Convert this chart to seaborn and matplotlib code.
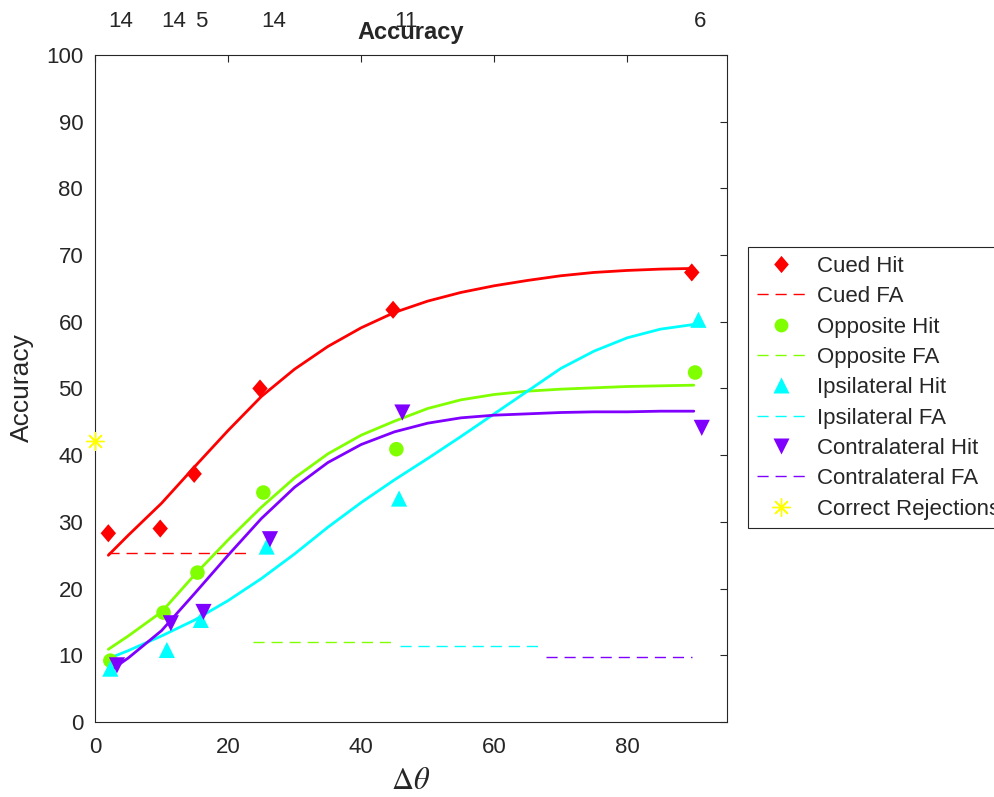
import numpy as np
import pandas as pd
import seaborn as sns
import matplotlib.pyplot as plt
from matplotlib.lines import Line2D
from matplotlib.path import Path
from matplotlib.markers import MarkerStyle

sns.set_style("white")
plt.rcParams['font.family'] = ['Liberation Sans', 'DejaVu Sans']
plt.rcParams['mathtext.fontset'] = 'stix'

# ---- data ----
cued_x = [2, 9.8, 14.9, 24.8, 44.8, 89.7]
cued_y = [28.3, 29.0, 37.2, 50.0, 61.8, 67.4]
opp_x = [2.3, 10.3, 15.4, 25.3, 45.3, 90.2]
opp_y = [9.2, 16.4, 22.4, 34.4, 40.9, 52.4]
ipsi_x = [2.3, 10.8, 15.9, 25.8, 45.7, 90.7]
ipsi_y = [8.0, 10.8, 15.3, 26.3, 33.5, 60.3]
contra_x = [3.3, 11.4, 16.3, 26.3, 46.2, 91.2]
contra_y = [8.5, 14.8, 16.5, 27.4, 46.4, 44.1]

# fitted curves
fit_x = [2, 5, 10, 15, 20, 25, 30, 35, 40, 45, 50, 55, 60, 65, 70, 75, 80, 85, 90]
cued_fit = [25.0, 28.0, 32.8, 38.3, 43.7, 48.8, 52.9, 56.3, 59.1, 61.4, 63.1, 64.4, 65.4,
            66.2, 66.9, 67.4, 67.7, 67.9, 68.0]
opp_fit = [10.9, 12.9, 16.5, 22.1, 27.3, 32.2, 36.6, 40.2, 43.0, 45.1, 47.0, 48.3, 49.1,
           49.6, 49.9, 50.1, 50.3, 50.4, 50.5]
ipsi_fit = [9.5, 10.7, 12.9, 15.3, 18.2, 21.5, 25.2, 29.2, 32.9, 36.3, 39.5, 42.8, 46.2,
            49.6, 53.0, 55.6, 57.6, 58.9, 59.6]
contra_fit = [7.5, 9.6, 13.7, 19.3, 25.0, 30.5, 35.2, 38.9, 41.6, 43.5, 44.8, 45.6, 46.0,
              46.2, 46.4, 46.5, 46.5, 46.6, 46.6]

# false alarm levels and their x spans
fa_y = [25.4, 11.95, 11.4, 9.8]
fa_x0 = [1.9, 23.8, 45.9, 67.8]
fa_x1 = [23.1, 45.2, 67.1, 89.8]

cr_x, cr_y = 0, 42.1

count_x = [2, 10, 15, 25, 45, 90]
count_lab = ['14', '14', '5', '14', '11', '6']

names = ['Cued', 'Opposite', 'Ipsilateral', 'Contralateral']
colors = ['#ff0000', '#80ff00', '#00ffff', '#8000ff']

diamond = MarkerStyle(Path([(0, 1), (0.85, 0), (0, -1), (-0.85, 0), (0, 1)],
                           [1, 2, 2, 2, 79]))
markers = [diamond, 'o', '^', 'v']
msize = [170, 110, 135, 135]

pts = [(cued_x, cued_y), (opp_x, opp_y), (ipsi_x, ipsi_y), (contra_x, contra_y)]
fits = [cued_fit, opp_fit, ipsi_fit, contra_fit]

fig = plt.figure(figsize=(9.95, 7.97), dpi=100)
ax = fig.add_axes([0.0955, 0.0941, 0.6352, 0.8369])

for i in range(4):
    d = pd.DataFrame({'x': pts[i][0], 'y': pts[i][1]})
    sns.scatterplot(data=d, x='x', y='y', marker=markers[i], s=msize[i],
                    color=colors[i], edgecolor='none', ax=ax, zorder=3, clip_on=False)
    ax.plot([fa_x0[i], fa_x1[i]], [fa_y[i], fa_y[i]], color=colors[i], lw=1,
            dashes=(8, 5), zorder=2)

for i in range(4):
    f = pd.DataFrame({'x': fit_x, 'y': fits[i]})
    sns.lineplot(data=f, x='x', y='y', color=colors[i], lw=2, ax=ax,
                 sort=False, estimator=None, zorder=2.5)

ax.plot([cr_x], [cr_y], marker=(8, 2, 0), ms=13, mew=1, color='#ffff00',
        ls='none', clip_on=False, zorder=4)

ax.set_xlim(0, 95)
ax.set_ylim(0, 100)
ax.set_xticks([0, 20, 40, 60, 80])
ax.set_yticks(range(0, 101, 10))
ax.set_xlabel('')
ax.set_ylabel('')
ax.tick_params(direction='in', length=5, width=0.8, colors='#262626',
               labelsize=16, top=True, right=True)
ax.tick_params(axis='x', pad=11)
ax.tick_params(axis='y', pad=8.5)
for sp in ax.spines.values():
    sp.set_color('#262626')
    sp.set_linewidth(0.8)

for xx, lab in zip(count_x, count_lab):
    ax.text(xx, 105.0, lab, ha='left', va='center', fontsize=16, color='#262626',
            clip_on=False)

fig.text(411 / 995, 1 - 33 / 797, 'Accuracy', ha='center', va='center',
         fontsize=17, weight='bold')
fig.text(22 / 995, 1 - 388 / 797, 'Accuracy', ha='center', va='center',
         rotation=90, fontsize=19, color='#262626')
fig.text(411 / 995, 1 - 781 / 797, r'$\Delta\theta$', ha='center', va='center',
         fontsize=22, color='#262626')

handles, labels = [], []
for i in range(4):
    handles.append(Line2D([], [], marker=markers[i], color=colors[i], ls='none',
                          ms=np.sqrt(msize[i]) * 0.95, mec='none'))
    labels.append(names[i] + ' Hit')
    handles.append(Line2D([], [], color=colors[i], lw=1, dashes=(8, 5)))
    labels.append(names[i] + ' FA')
handles.append(Line2D([], [], marker=(8, 2, 0), color='#ffff00', ls='none', ms=13, mew=1))
labels.append('Correct Rejections')

leg = fig.legend(handles, labels, loc='upper left',
                 bbox_to_anchor=(748 / 995, 1 - 247 / 797), fontsize=16,
                 frameon=True, fancybox=False, edgecolor='#262626', framealpha=1,
                 borderpad=0.4, labelspacing=0.42, handlelength=2.15,
                 handletextpad=0.55, borderaxespad=0)
leg.get_frame().set_linewidth(0.8)
for t in leg.get_texts():
    t.set_color('#262626')

fig.savefig('out.png', dpi=100)
